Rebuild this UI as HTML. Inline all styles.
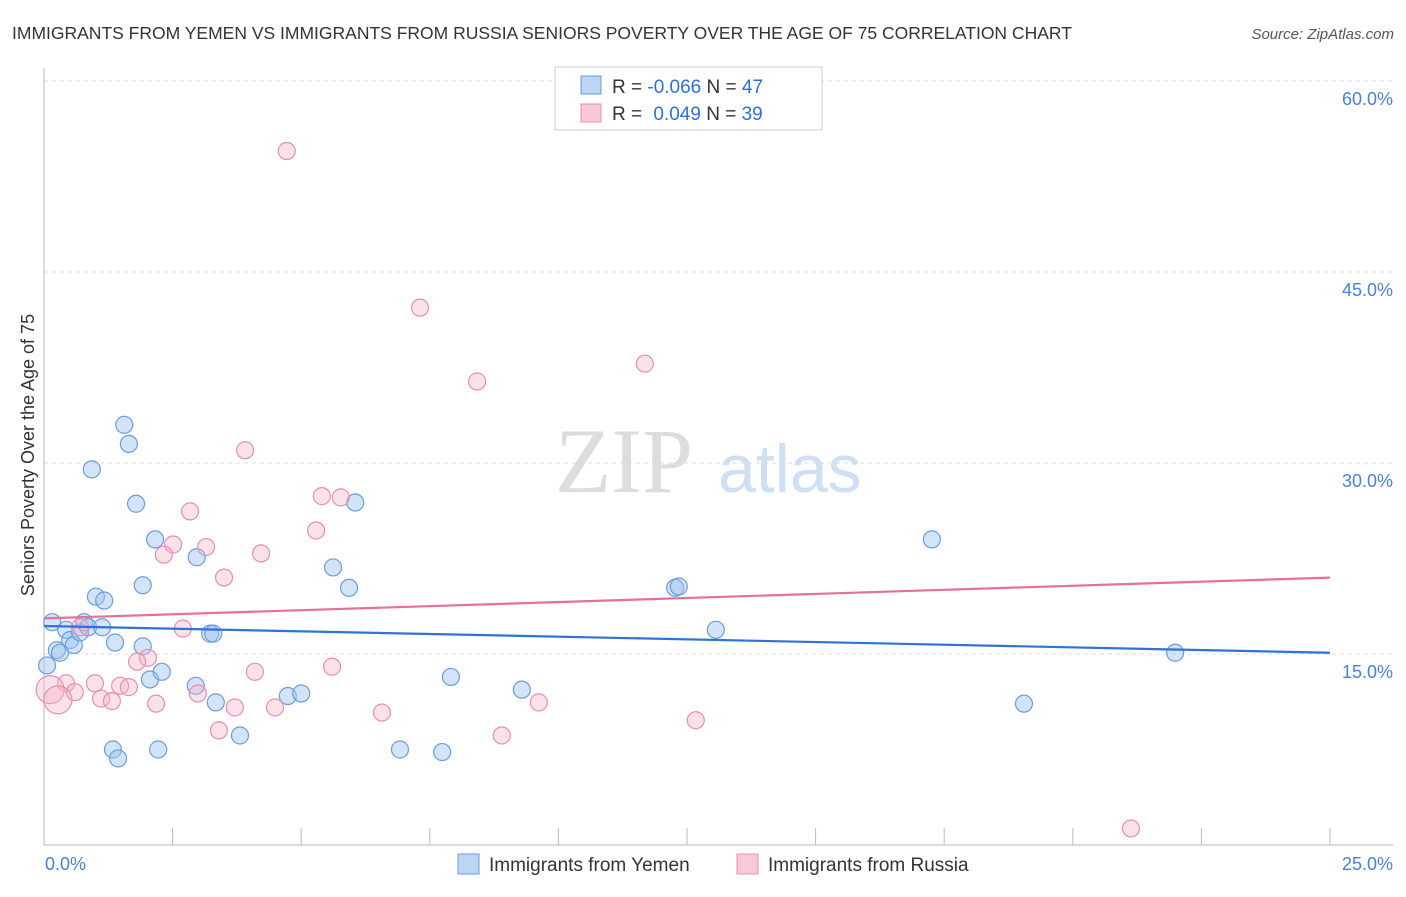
<!DOCTYPE html>
<html><head><meta charset="utf-8"><style>
body{margin:0;background:#fff;font-family:"Liberation Sans",sans-serif}
svg text{font-family:"Liberation Sans",sans-serif}
</style></head><body>
<svg id="chart" width="1406" height="892">
<text x="12" y="39" font-size="17.5" fill="#333">IMMIGRANTS FROM YEMEN VS IMMIGRANTS FROM RUSSIA SENIORS POVERTY OVER THE AGE OF 75 CORRELATION CHART</text>
<text x="1394" y="39" font-size="15" fill="#555" font-style="italic" text-anchor="end">Source: ZipAtlas.com</text>
<g id="grid"></g>
<text x="555" y="492" font-size="92" fill="#ddd" font-family="Liberation Serif" style="font-family:'Liberation Serif',serif">ZIP</text>
<text x="718" y="492" font-size="68" fill="#cfe0f5">atlas</text>
<text transform="translate(34,455) rotate(-90)" font-size="18" fill="#333" text-anchor="middle">Seniors Poverty Over the Age of 75</text>
<g id="marks"></g>
<g>
<rect x="555" y="67" width="267" height="63" fill="#fff" stroke="#ccc"/>
<rect x="581" y="76" width="20" height="18" fill="#bcd5f5" stroke="#6a9de0"/>
<rect x="581" y="104" width="20" height="18" fill="#f9c9d7" stroke="#e890ab"/>
<text x="612" y="93" font-size="19" fill="#333">R = <tspan fill="#2f6fd6">-0.066</tspan>   N = <tspan fill="#2f6fd6">47</tspan></text>
<text x="612" y="120" font-size="19" fill="#333">R =  <tspan fill="#2f6fd6" dx="6">0.049</tspan>   N = <tspan fill="#2f6fd6">39</tspan></text>
</g>
<g>
<rect x="458" y="854" width="21" height="20" fill="#bcd5f5" stroke="#6a9de0"/>
<text x="489" y="871" font-size="19" fill="#333">Immigrants from Yemen</text>
<rect x="737" y="854" width="21" height="20" fill="#f9c9d7" stroke="#e890ab"/>
<text x="768" y="871" font-size="19" fill="#333">Immigrants from Russia</text>
</g>
</svg>
<script>
const yTicks=[15,30,45,60];
const yTickLabels=["15.0%","30.0%","45.0%","60.0%"];
const xTickCount=10;
const xLabels=["0.0%","25.0%"];
const yemenX=[0.16,0.06,0.25,0.31,0.43,0.51,0.58,0.70,0.78,0.86,0.93,1.01,1.13,1.17,1.34,1.38,1.44,1.56,1.65,1.79,1.92,1.92,2.06,2.16,2.22,2.29,2.95,2.97,3.23,3.29,3.34,3.81,4.74,5.00,5.62,5.93,6.05,6.92,7.74,7.91,9.29,12.27,12.34,13.06,17.26,19.05,21.99];
const yemenY=[17.5,14.1,15.3,15.1,16.9,16.1,15.7,16.7,17.5,17.1,29.5,19.5,17.1,19.2,7.5,15.9,6.8,33.0,31.5,26.8,20.4,15.6,13.0,24.0,7.5,13.6,12.5,22.6,16.6,16.6,11.2,8.6,11.7,11.9,21.8,20.2,26.9,7.5,7.3,13.2,12.2,20.2,20.3,16.9,24.0,11.1,15.1];
const russiaX=[4.72,7.31,8.42,11.68,3.91,2.84,5.40,5.77,2.51,3.15,5.29,2.33,4.22,3.50,2.70,0.70,2.02,1.81,5.60,4.10,0.43,0.99,1.48,1.65,0.60,2.99,1.11,1.32,0.12,0.27,2.18,3.71,4.49,6.57,9.62,3.40,12.67,8.90,21.13];
const russiaY=[54.5,42.2,36.4,37.8,31.0,26.2,27.4,27.3,23.6,23.4,24.7,22.8,22.9,21.0,17.0,17.1,14.7,14.4,14.0,13.6,12.7,12.7,12.5,12.4,12.0,11.9,11.5,11.3,12.2,11.4,11.1,10.8,10.8,10.4,11.2,9.0,9.8,8.6,1.3];
const russiaBig=[28,29];
const yemenTrend=[17.2,15.1];
const russiaTrend=[17.8,21.0];
const X=v=>44+v/25*1286, Y=v=>845-v/15*191;
const NS="http://www.w3.org/2000/svg";
function mk(t,a,p){const e=document.createElementNS(NS,t);for(const k in a)e.setAttribute(k,a[k]);p.appendChild(e);return e;}
const grid=document.getElementById('grid'), marks=document.getElementById('marks');
yTicks.forEach((t,i)=>{
 const l=mk('line',{x1:44,x2:1393,y1:Y(t),y2:Y(t),stroke:'#ddd','stroke-dasharray':'4,4'},grid);
 
 
 const tx=mk('text',{x:1393,y:Y(t)+24,'font-size':18,fill:'#4a80d8','text-anchor':'end'},grid);
 tx.textContent=yTickLabels[i];
 
 
});
const ax=mk('line',{x1:44,x2:44,y1:68,y2:845,stroke:'#bbb'},grid);


const bx=mk('line',{x1:44,x2:1393,y1:845,y2:845,stroke:'#bbb'},grid);


for(let i=1;i<=xTickCount;i++){
 const v=25*i/xTickCount;
 const t=mk('line',{x1:X(v),x2:X(v),y1:828,y2:845,stroke:'#bbb'},grid);
 
 
}
[[0,'start',45],[25,'end',1393]].forEach((d,i)=>{
 const t=mk('text',{x:d[2],y:870,'font-size':18,fill:'#4a80d8','text-anchor':d[1]},grid);
 t.textContent=xLabels[i];
 
 
});
yemenX.forEach((x,i)=>{
 const c=mk('circle',{cx:X(x),cy:Y(yemenY[i]),r:8.5,fill:'rgba(160,195,240,0.45)',stroke:'#6a9de0','stroke-width':1.2},marks);
 
 
});
russiaX.forEach((x,i)=>{
 const c=mk('circle',{cx:X(x),cy:Y(russiaY[i]),r:russiaBig.includes(i)?14:8.5,fill:'rgba(245,180,200,0.4)',stroke:'#e890ab','stroke-width':1.2},marks);
 
 
});
const l1=mk('line',{x1:X(0),x2:X(25),y1:Y(yemenTrend[0]),y2:Y(yemenTrend[1]),stroke:'#2f72d8','stroke-width':2.2},marks);


const l2=mk('line',{x1:X(0),x2:X(25),y1:Y(russiaTrend[0]),y2:Y(russiaTrend[1]),stroke:'#e5709a','stroke-width':2.2},marks);


</script>
</body></html>
